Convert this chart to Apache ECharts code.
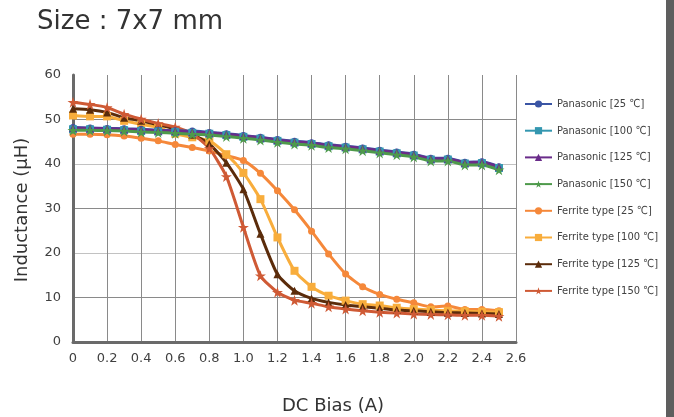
<!DOCTYPE html>
<html>
<head>
<meta charset="utf-8">
<script src="https://cdn.jsdelivr.net/npm/echarts@6/dist/echarts.min.js"></script>
<style>html,body{margin:0;padding:0;background:#fff;}#c{width:674px;height:417px;}</style>
</head>
<body>
<div id="c"></div>
<script>
const titleText = 'Size : 7x7 mm';
const xAxisName = 'DC Bias (A)';
const yAxisName = 'Inductance (μH)';
const xTickLabels = ['0','0.2','0.4','0.6','0.8','1.0','1.2','1.4','1.6','1.8','2.0','2.2','2.4','2.6'];
const yTickLabels = ['0','10','20','30','40','50','60'];
const seriesNames = ['Panasonic [25 ℃]','Panasonic [100 ℃]','Panasonic [125 ℃]','Panasonic [150 ℃]',
  'Ferrite type [25 ℃]','Ferrite type [100 ℃]','Ferrite type [125 ℃]','Ferrite type [150 ℃]'];
const dcBias = [0,0.1,0.2,0.3,0.4,0.5,0.6,0.7,0.8,0.9,1.0,1.1,1.2,1.3,1.4,1.5,1.6,1.7,1.8,1.9,2.0,2.1,2.2,2.3,2.4,2.5];
const pana25  = [48.2,48.1,48.0,47.9,47.8,47.6,47.5,47.4,47.1,46.8,46.4,46.0,45.5,45.1,44.8,44.3,44.0,43.6,43.1,42.7,42.2,41.3,41.3,40.4,40.5,39.4];
const pana100 = [47.8,47.8,47.7,47.6,47.4,47.3,47.2,47.0,46.8,46.5,46.1,45.7,45.2,44.8,44.5,44.0,43.7,43.3,42.8,42.4,41.9,41.0,41.0,40.1,40.2,39.1];
const pana125 = [48.1,48.0,47.9,47.8,47.7,47.5,47.4,47.2,47.0,46.7,46.3,45.9,45.4,45.0,44.7,44.2,43.9,43.5,43.0,42.6,42.1,41.2,41.2,40.3,40.4,39.3];
const pana150 = [47.6,47.6,47.5,47.4,47.2,47.1,46.9,46.7,46.5,46.2,45.8,45.4,44.9,44.5,44.2,43.7,43.4,43.0,42.5,42.1,41.6,40.7,40.7,39.8,39.8,38.7];
const ferr25  = [46.7,46.7,46.6,46.3,45.8,45.2,44.4,43.7,42.9,41.9,40.8,37.9,34.0,29.7,24.9,19.8,15.3,12.4,10.7,9.6,8.8,7.9,8.1,7.3,7.3,7.0];
const ferr100 = [50.9,50.7,50.7,49.7,48.9,48.2,46.8,46.0,45.2,42.2,38.0,32.1,23.5,16.0,12.4,10.4,9.3,8.5,8.2,7.7,7.4,7.2,7.0,6.9,6.8,6.7];
const ferr125 = [52.4,52.2,51.6,50.4,49.7,48.8,47.9,46.6,44.5,40.3,34.3,24.3,15.2,11.5,9.8,8.9,8.3,7.9,7.6,7.2,7.0,6.8,6.6,6.5,6.4,6.3];
const ferr150 = [53.9,53.4,52.7,51.2,50.1,49.1,48.3,46.8,43.5,37.2,25.8,14.9,11.2,9.4,8.7,7.9,7.4,7.0,6.7,6.5,6.3,6.2,6.1,6.0,6.0,5.8];

const star = 'path://M50,0 L61,35 L98,35 L68,57 L79,91 L50,70 L21,91 L32,57 L2,35 L39,35 Z';
const seriesValues = [pana25,pana100,pana125,pana150,ferr25,ferr100,ferr125,ferr150];
const colors = ['#3a55a4','#3497b0','#6a2c8a','#4e9a4b','#f5883a','#f8ad3c','#5b2c0b','#cf5a35'];
const symbols = ['circle','rect','triangle',star,'circle','rect','triangle',star];
const sizes = [7,8,8,11,7,8,8,11];
const zs = [6,6,6,6,3,3,3,3];

const chart = echarts.init(document.getElementById('c'));
const FONT = 'DejaVu Sans';
chart.setOption({
  animation: false,
  color: colors,
  title: {
    text: titleText, left: 37, top: 9, padding: 0,
    textStyle: {fontFamily: FONT, fontSize: 26, fontWeight: 'normal', color: '#333'}
  },
  grid: {left: 73, right: 158, top: 75, bottom: 75},
  legend: {
    orient: 'vertical', left: 524, top: 96, padding: 0,
    itemWidth: 27, itemHeight: 9, itemGap: 10.7, itemStyle: {borderWidth: 0},
    textStyle: {fontFamily: 'DejaVu Sans Condensed', fontSize: 11, color: '#404040', lineHeight: 16},
    data: seriesNames
  },
  xAxis: {
    type: 'value', min: 0, max: 2.6, interval: 0.2,
    axisLine: {show: true, onZero: false, lineStyle: {color: '#6a6a6a', width: 3}},
    axisTick: {show: false},
    axisLabel: {fontFamily: FONT, fontSize: 13, color: '#404040', margin: 10,
      formatter: (v, i) => xTickLabels[i]},
    splitLine: {show: true, lineStyle: {color: '#8a8a8a', width: 1}}
  },
  yAxis: {
    type: 'value', min: 0, max: 60, interval: 10,
    axisLine: {show: true, lineStyle: {color: '#6a6a6a', width: 3}},
    axisTick: {show: false},
    axisLabel: {fontFamily: FONT, fontSize: 13, color: '#404040', margin: 12,
      formatter: (v, i) => yTickLabels[i]},
    splitLine: {show: true, showMaxLine: false,
      lineStyle: {color: ['#8a8a8a','#8a8a8a','#c2c2c2','#8a8a8a','#c2c2c2','#8a8a8a','rgba(0,0,0,0)'], width: 1}}
  },
  graphic: [
    {type: 'text', left: 282, top: 397,
      style: {text: xAxisName, fontFamily: FONT, fontSize: 18, fill: '#333'}},
    {type: 'text', x: 22, y: 210, rotation: Math.PI / 2,
      style: {text: yAxisName, fontFamily: FONT, fontSize: 18, fill: '#333', align: 'center', verticalAlign: 'middle'}},
    {type: 'rect', shape: {x: 666, y: 0, width: 8, height: 417},
      style: {fill: '#5e5e5e'}}
  ],
  series: seriesNames.map((name, k) => ({
    name: name,
    type: 'line',
    data: dcBias.map((x, i) => [x, seriesValues[k][i]]),
    symbol: symbols[k],
    symbolSize: sizes[k],
    smooth: 0.2,
    z: zs[k],
    lineStyle: {width: 3, color: colors[k]},
    itemStyle: {color: colors[k]}
  }))
});
</script>
</body>
</html>
